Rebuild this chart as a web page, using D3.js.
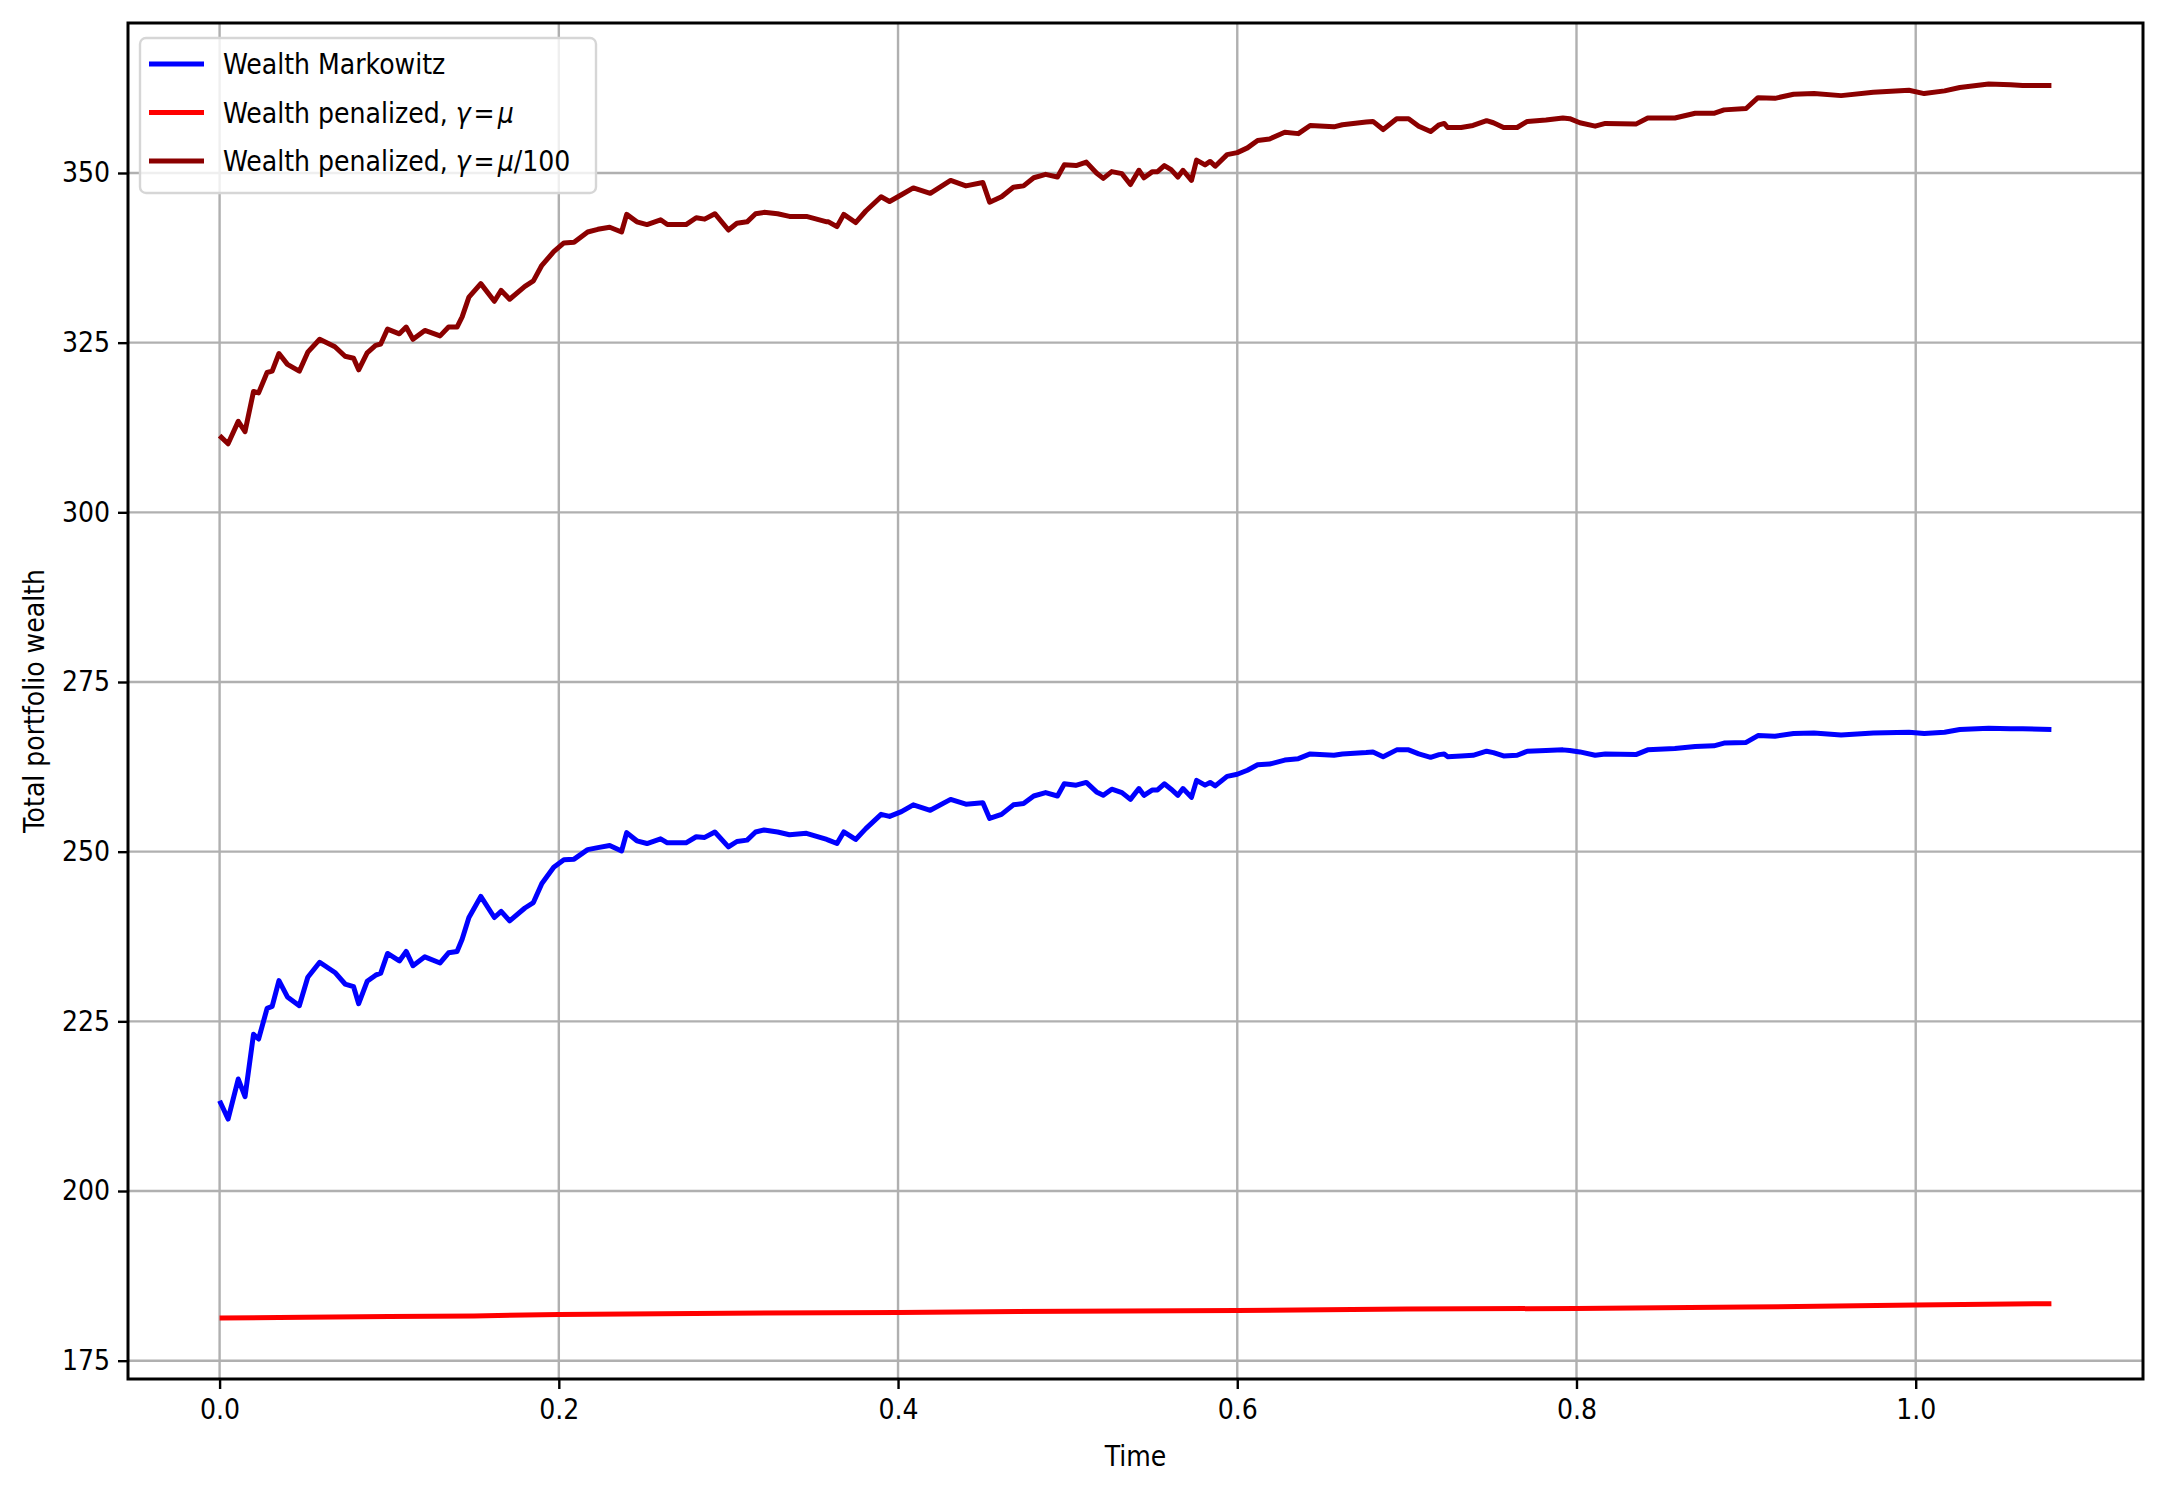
<!DOCTYPE html>
<html>
<head>
<meta charset="utf-8">
<script src="https://cdn.jsdelivr.net/npm/d3@7"></script>
<style>
  body { margin: 0; background: #fff; }
  text { font-family: "DejaVu Sans Condensed", "DejaVu Sans", sans-serif; font-stretch: condensed; fill: #000; }
</style>
</head>
<body>
<svg id="chart" width="2170" height="1485"></svg>
<script>
// time samples
var timeA = [0, .005, .011, .015, .020, .023, .028, .031, .035, .040, .047, .052, .059, .068, .074, .079, .082, .087, .092, .095,
  .099, .106, .110, .114, .121, .130, .135, .140, .143, .147, .154, .162, .166, .171, .180, .185, .190, .197, .203, .209,
  .217, .223, .230, .237, .240, .246, .252, .260, .264, .275, .281, .286, .292, .300, .305, .311, .316, .321, .329, .336,
  .341, .346, .358,
  .359, .364, .368, .375, .381, .390, .395, .402, .409, .419, .431, .440, .450, .454, .461, .468, .474, .480, .487, .494,
  .498, .505, .511, .517, .521, .526, .532, .537, .542, .545, .550, .553, .557, .561, .565, .568, .573, .576, .581, .584,
  .587, .594, .600, .606, .612, .619, .628, .636, .643, .657, .662, .676, .680, .686, .694, .701, .707, .714, .719, .722,
  .724, .732, .739, .747, .751, .757, .765, .771, .782, .792, .796, .802, .811, .817, .835, .842, .858, .870, .881, .887,
  .900, .907, .917, .928, .940, .956, .975, .996, 1.005, 1.017, 1.026, 1.043, 1.056, 1.063, 1.08]

var wealthMarkowitz = [213.3, 210.6, 216.5, 213.9, 223.1, 222.4, 226.9, 227.2, 231, 228.6, 227.3, 231.5, 233.7, 232.2, 230.5, 230.1, 227.6, 230.9, 231.8, 232.1,
  235, 233.9, 235.3, 233.2, 234.5, 233.6, 235.1, 235.3, 237.1, 240.3, 243.4, 240.3, 241.2, 239.8, 241.7, 242.5, 245.3, 247.7, 248.8, 248.9,
  250.3, 250.6, 250.9, 250.1, 252.8, 251.6, 251.2, 251.9, 251.3, 251.3, 252.2, 252.1, 252.9, 250.7, 251.5, 251.7, 252.9, 253.2, 252.9, 252.5,
  252.6, 252.7, 251.8,
  251.7, 251.2, 252.9, 251.8, 253.4, 255.5, 255.2, 255.9, 256.9, 256.1, 257.7, 257, 257.2, 254.9, 255.5, 256.9, 257.1, 258.2, 258.7, 258.2,
  260, 259.8, 260.2, 258.8, 258.3, 259.2, 258.7, 257.7, 259.3, 258.3, 259.1, 259.1, 260, 259.2, 258.3, 259.3, 258, 260.5, 259.8, 260.2,
  259.7, 261.1, 261.4, 262, 262.8, 262.9, 263.5, 263.7, 264.4, 264.2, 264.4, 264.6, 264.7, 264, 265, 265, 264.4, 263.9, 264.3, 264.4,
  264.0, 264.1, 264.2, 264.8, 264.6, 264.1, 264.2, 264.8, 264.9, 265.0, 264.9, 264.7, 264.2, 264.4, 264.3, 265.0, 265.2, 265.5, 265.6, 266,
  266.1, 267.1, 267, 267.4, 267.5, 267.2, 267.5, 267.6, 267.4, 267.6, 268, 268.2, 268.1, 268.1, 268]

var wealthPenal100 = [311.3, 310.1, 313.4, 311.9, 317.8, 317.6, 320.6, 320.8, 323.4, 321.8, 320.8, 323.6, 325.5, 324.4, 323, 322.7, 321, 323.5, 324.6, 324.8,
  327, 326.3, 327.3, 325.5, 326.8, 326, 327.3, 327.3, 328.8, 331.7, 333.7, 331.1, 332.7, 331.4, 333.3, 334.1, 336.4, 338.4, 339.7, 339.8,
  341.3, 341.7, 342, 341.3, 343.9, 342.8, 342.4, 343.1, 342.4, 342.4, 343.4, 343.2, 344, 341.6, 342.6, 342.8, 344, 344.2, 344, 343.6,
  343.6, 343.6, 342.8,
  342.8, 342.1, 343.9, 342.7, 344.4, 346.5, 345.8, 346.8, 347.8, 347, 348.9, 348.1, 348.6, 345.7, 346.5, 347.9, 348.1, 349.3, 349.8, 349.4,
  351.2, 351.1, 351.6, 350, 349.2, 350.2, 349.9, 348.3, 350.4, 349.3, 350.2, 350.2, 351.1, 350.5, 349.4, 350.4, 348.9, 351.9, 351.2, 351.7,
  351, 352.7, 353, 353.7, 354.8, 355, 356, 355.8, 357, 356.8, 357.1, 357.5, 357.6, 356.4, 358, 358, 356.9, 356.1, 357.1, 357.3,
  356.7, 356.7, 357, 357.7, 357.4, 356.7, 356.7, 357.6, 357.8, 358.1, 358, 357.4, 356.9, 357.3, 357.2, 358.1, 358.1, 358.8, 358.8, 359.3,
  359.5, 361.1, 361, 361.6, 361.7, 361.4, 361.9, 362.2, 361.7, 362.1, 362.6, 363.1, 363, 362.9, 362.9]

var timeB = [0, 0.05, 0.1, 0.15, 0.2, 0.3, 0.4, 0.5, 0.6, 0.7, 0.8, 0.9, 1.0, 1.08]
var wealthPenal = [181.3, 181.4, 181.5, 181.6, 181.8, 182.0, 182.1, 182.3, 182.4, 182.6, 182.7, 182.9, 183.2, 183.4]

var xTicks = [0, 0.2, 0.4, 0.6, 0.8, 1.0]
var yTicks = [175, 200, 225, 250, 275, 300, 325, 350]

var svg = d3.select('#chart')
var L = 128, R = 2143, T = 23, B = 1379

var x = d3.scaleLinear().domain([-0.054, 1.134]).range([L, R])
var y = d3.scaleLinear().domain([172.3, 372.1]).range([B, T])

// grid
var grid = svg.append('g').attr('stroke', '#b0b0b0').attr('stroke-width', 2.4)
grid.selectAll('.gx').data(xTicks).enter().append('line')
  .attr('x1', (d) => x(d)).attr('x2', (d) => x(d)).attr('y1', T).attr('y2', B)
grid.selectAll('.gy').data(yTicks).enter().append('line')
  .attr('y1', (d) => y(d)).attr('y2', (d) => y(d)).attr('x1', L).attr('x2', R)

var series = [
  { t: timeA, v: wealthMarkowitz, color: '#0000ff' },
  { t: timeB, v: wealthPenal, color: '#ff0000' },
  { t: timeA, v: wealthPenal100, color: '#8b0000' },
]
var line = d3.line().x((d) => x(d[0])).y((d) => y(d[1]))
series.forEach((s) => {
  svg.append('path')
    .attr('d', line(s.t.map((t, i) => [t, s.v[i]])))
    .attr('fill', 'none').attr('stroke', s.color).attr('stroke-width', 5)
    .attr('stroke-linejoin', 'round')
})

// axes
var xAxis = d3.axisBottom(x).tickValues(xTicks).tickFormat(d3.format('.1f')).tickSize(10).tickPadding(10)
var yAxis = d3.axisLeft(y).tickValues(yTicks).tickSize(10).tickPadding(8)
var gx = svg.append('g').attr('transform', `translate(0,${B})`).call(xAxis)
var gy = svg.append('g').attr('transform', `translate(${L},0)`).call(yAxis)
;[gx, gy].forEach((g) => {
  g.select('.domain').remove()
  g.selectAll('line').attr('stroke', '#000').attr('stroke-width', 2.4)
  g.selectAll('text').style('font-size', '28px')
    .style('font-family', '"DejaVu Sans Condensed", "DejaVu Sans", sans-serif').attr('fill', '#000')
})

svg.append('rect').attr('x', L).attr('y', T).attr('width', R - L).attr('height', B - T)
  .attr('fill', 'none').attr('stroke', '#000').attr('stroke-width', 3)

svg.append('text').attr('x', (L + R) / 2).attr('y', 1466).attr('text-anchor', 'middle')
  .style('font-size', '28px').text('Time')
svg.append('text').attr('transform', `translate(44,${(T + B) / 2}) rotate(-90)`)
  .attr('text-anchor', 'middle').style('font-size', '28px').text('Total portfolio wealth')

// legend
var lg = svg.append('g')
lg.append('rect').attr('x', 140).attr('y', 38).attr('width', 456).attr('height', 155).attr('rx', 6)
  .attr('fill', '#fff').attr('fill-opacity', 0.8).attr('stroke', '#d6d6d6').attr('stroke-width', 2.4)
var legendItems = [
  { color: '#0000ff', parts: [['Wealth Markowitz', false]] },
  { color: '#ff0000', parts: [['Wealth penalized, ', false], ['γ', true], ['=', false], ['μ', true]] },
  { color: '#8b0000', parts: [['Wealth penalized, ', false], ['γ', true], ['=', false], ['μ', true], ['/100', false]] },
]
legendItems.forEach((it, i) => {
  var cy = 64 + i * 48.5
  lg.append('line').attr('x1', 149).attr('x2', 204).attr('y1', cy).attr('y2', cy)
    .attr('stroke', it.color).attr('stroke-width', 5)
  var tx = lg.append('text').attr('x', 223).attr('y', cy + 10).style('font-size', '28px')
  it.parts.forEach((p) => {
    tx.append('tspan').text(p[0]).style('font-style', p[1] ? 'italic' : 'normal')
      .attr('dx', p[0] === '=' ? 3 : (p[1] && i > 0 && p[0] === 'μ' ? 3 : 0))
  })
})
</script>
</body>
</html>
